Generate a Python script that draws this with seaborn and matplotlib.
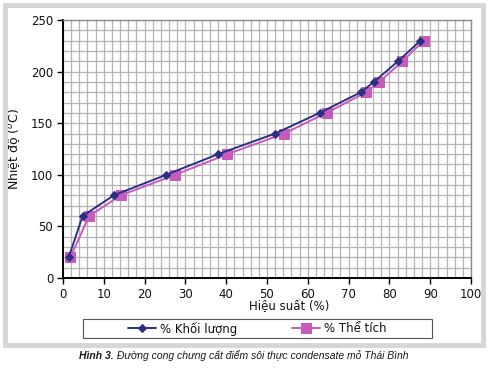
import matplotlib
matplotlib.use('Agg')
import matplotlib.pyplot as plt
from matplotlib.patches import Rectangle
from matplotlib.ticker import MultipleLocator
import seaborn as sns
import pandas as pd

# Nhiệt độ (°C) theo hiệu suất cất (%)
nhiet_do = [20, 60, 80, 100, 120, 140, 160, 180, 190, 210, 230]
hs_khoi_luong = [1.4, 4.8, 12.4, 25.3, 38.0, 52.0, 62.9, 73.0, 76.2, 82.1, 87.6]
hs_the_tich = [1.8, 6.4, 14.1, 27.5, 40.3, 54.2, 64.6, 74.3, 77.5, 83.2, 88.4]

label_kl = '% Khối lượng'
label_tt = '% Thể tích'
caption_bold = 'Hình 3.'
caption_rest = ' Đường cong chưng cất điểm sôi thực condensate mỏ Thái Bình'

df_kl = pd.DataFrame({'x': hs_khoi_luong, 'y': nhiet_do})
df_tt = pd.DataFrame({'x': hs_the_tich, 'y': nhiet_do})

sns.set_theme(style='white')
plt.rcParams['font.family'] = ['DejaVu Sans']

W, H = 488, 368
fig = plt.figure(figsize=(W / 100, H / 100), dpi=100)
fig.patch.set_facecolor('white')

# khung xám bao quanh biểu đồ
fig.patches.append(Rectangle((5 / W, 1 - 345 / H), 478 / W, 340 / H,
                             transform=fig.transFigure, fill=False,
                             edgecolor='#d6d6d6', linewidth=3.5))
# khung chú giải
fig.patches.append(Rectangle((83 / W, 1 - 338 / H), 349 / W, 19 / H,
                             transform=fig.transFigure, fill=False,
                             edgecolor='#555555', linewidth=0.8))

ax = fig.add_axes([63 / W, 1 - 278 / H, 408 / W, 258 / H])

blue = '#2b2f86'
pink = '#c75bbb'

sns.lineplot(data=df_tt, x='x', y='y', ax=ax, sort=False, color=pink,
             linewidth=1.4, marker='s', markersize=6.5, markeredgecolor=pink,
             label=label_tt, zorder=3)
sns.lineplot(data=df_kl, x='x', y='y', ax=ax, sort=False, color=blue,
             linewidth=1.4, marker='D', markersize=4.5, markeredgecolor=blue,
             label=label_kl, zorder=4)

ax.set_xlim(0, 100)
ax.set_ylim(0, 250)
ax.xaxis.set_major_locator(MultipleLocator(10))
ax.xaxis.set_minor_locator(MultipleLocator(2))
ax.yaxis.set_major_locator(MultipleLocator(50))
ax.yaxis.set_minor_locator(MultipleLocator(10))
ax.grid(which='both', color='#b4b4b4', linewidth=0.9)
ax.set_axisbelow(True)

for s in ['top', 'right']:
    ax.spines[s].set_color('#8c8c8c')
    ax.spines[s].set_linewidth(1.0)
for s in ['left', 'bottom']:
    ax.spines[s].set_color('black')
    ax.spines[s].set_linewidth(1.4)

ax.tick_params(which='major', direction='out', length=4, width=1,
               color='black', labelsize=8.5, pad=3, left=True, bottom=True,
               labelcolor='#111111')
ax.tick_params(which='minor', length=0)

ax.set_xlabel('Hiệu suất (%)', fontsize=8.5, color='#111111')
ax.xaxis.set_label_coords(0.555, -0.085)
ax.set_ylabel('Nhiệt độ ($^o$C)', fontsize=9, color='#111111')
ax.yaxis.set_label_coords(-0.1, 0.5)

handles, labels = ax.get_legend_handles_labels()
ax.legend_.remove()
order = [labels.index(label_kl), labels.index(label_tt)]
leg = fig.legend([handles[i] for i in order], [labels[i] for i in order],
                 loc='center', ncol=2,
                 bbox_to_anchor=(257 / W, 1 - 328.5 / H),
                 frameon=False, fontsize=8.5,
                 handlelength=2.4, handletextpad=0.35, borderpad=0.2,
                 columnspacing=4.6)
for t in leg.get_texts():
    t.set_color('#111111')

# chú thích hình, căn giữa
cap_font = ['Liberation Sans', 'DejaVu Sans']
y_cap = 1 - 356 / H
t1 = fig.text(0, y_cap, caption_bold, fontsize=7.5, fontweight='bold',
              fontstyle='italic', va='center', color='#1a1a1a', family=cap_font)
t2 = fig.text(0, y_cap, caption_rest, fontsize=7.5, fontstyle='italic',
              va='center', color='#1a1a1a', family=cap_font)
fig.canvas.draw()
w1 = t1.get_window_extent().width
w2 = t2.get_window_extent().width
x0 = 244 - (w1 + w2) / 2
t1.set_x(x0 / W)
t2.set_x((x0 + w1) / W)

fig.savefig('out.png', dpi=100, facecolor='white')
